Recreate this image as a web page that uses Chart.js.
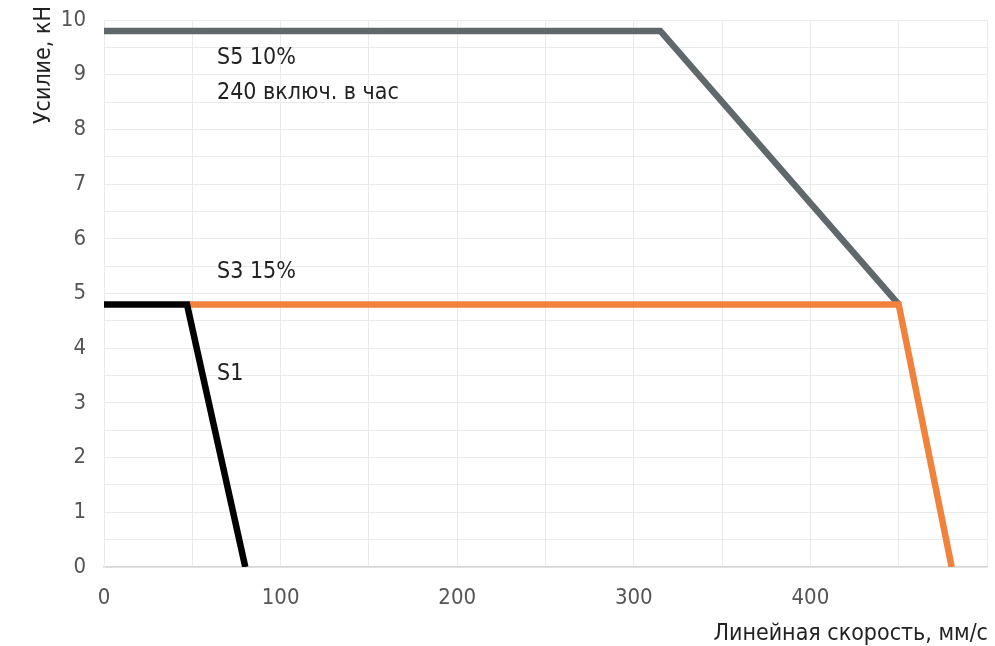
<!DOCTYPE html>
<html>
<head>
<meta charset="utf-8">
<script src="https://cdn.jsdelivr.net/npm/chart.js@4/dist/chart.umd.min.js"></script>
<style>
html,body{margin:0;padding:0;background:#fff;}
#wrap{width:995px;height:646px;}
</style>
</head>
<body>
<div id="wrap"><canvas id="c" width="995" height="646"></canvas></div>
<script>
// Data
const s5X = [0, 315, 450];
const s5Y = [9.8, 9.8, 4.8];
const s3X = [47, 450, 480];
const s3Y = [4.8, 4.8, 0];
const s1X = [0, 47, 80];
const s1Y = [4.8, 4.8, 0];

const labelTexts = ['S5 10%', '240 включ. в час', 'S3 15%', 'S1'];
const labelX = [64, 64, 64, 64];
const labelY = [9.3, 8.67, 5.4, 3.53];

const xTitle = 'Линейная скорость, мм/с';
const yTitle = 'Усилие, кН';

const FONT = "'Liberation Sans Narrow', 'DejaVu Sans Condensed', 'Roboto Condensed', sans-serif";

function pts(xs, ys){ return xs.map((x,i)=>({x:x, y:ys[i]})); }

const textPlugin = {
  id: 'texts',
  afterDatasetsDraw(chart){
    const ctx = chart.ctx;
    const xs = chart.scales.x, ys = chart.scales.y;
    ctx.save();
    ctx.fillStyle = '#222';
    ctx.font = '23px ' + FONT;
    ctx.textAlign = 'left';
    ctx.textBaseline = 'middle';
    labelTexts.forEach((t,i)=>{
      ctx.fillText(t, xs.getPixelForValue(labelX[i]), ys.getPixelForValue(labelY[i]));
    });
    // axis titles
    ctx.fillStyle = '#222';
    ctx.font = '23px ' + FONT;
    ctx.textAlign = 'right';
    ctx.textBaseline = 'alphabetic';
    ctx.fillText(xTitle, chart.chartArea.right + 1, 640);
    ctx.translate(50, 6);
    ctx.rotate(-Math.PI/2);
    ctx.textAlign = 'right';
    ctx.textBaseline = 'alphabetic';
    ctx.fillText(yTitle, 0, 0);
    ctx.restore();
  }
};

new Chart(document.getElementById('c'), {
  type: 'line',
  data: {
    datasets: [
      {label:'S1', data: pts(s1X, s1Y), borderColor:'#000000', borderWidth:6.5, order:0},
      {label:'S3 15%', data: pts(s3X, s3Y), borderColor:'#f0823c', borderWidth:6.5, order:1},
      {label:'S5 10%', data: pts(s5X, s5Y), borderColor:'#60686b', borderWidth:6.5, order:2}
    ]
  },
  options: {
    responsive: false,
    animation: false,
    parsing: false,
    layout: {padding: {top: 20, right: 8, left: 0, bottom: 0}},
    elements: {
      point: {radius: 0, hoverRadius: 0},
      line: {tension: 0, borderJoinStyle: 'miter', borderCapStyle: 'butt', fill: false}
    },
    plugins: {legend: {display:false}, tooltip: {enabled:false}},
    scales: {
      x: {
        type: 'linear', min: 0, max: 500,
        afterFit(s){ s.height = 79; s.paddingLeft = 0; s.paddingRight = 0; },
        ticks: {stepSize: 50, color:'#555', padding: 18, maxRotation:0, autoSkip:false,
          font:{size:22, family: FONT},
          callback: v => (v % 100 === 0 && v < 500) ? String(v) : ''},
        grid: {color:'#e9ebeb', lineWidth:1, drawTicks:false},
        border: {color:'#d5d7d8', width:1.5}
      },
      y: {
        type: 'linear', min: 0, max: 10,
        afterFit(s){ s.width = 104; s.paddingTop = 0; s.paddingBottom = 0; },
        ticks: {stepSize: 0.5, color:'#555', padding: 18, autoSkip:false,
          font:{size:22, family: FONT},
          callback: v => Number.isInteger(v) ? String(v) : ''},
        grid: {color:'#e9ebeb', lineWidth:1, drawTicks:false},
        border: {color:'#e9ebeb'}
      }
    }
  },
  plugins: [textPlugin]
});
</script>
</body>
</html>
